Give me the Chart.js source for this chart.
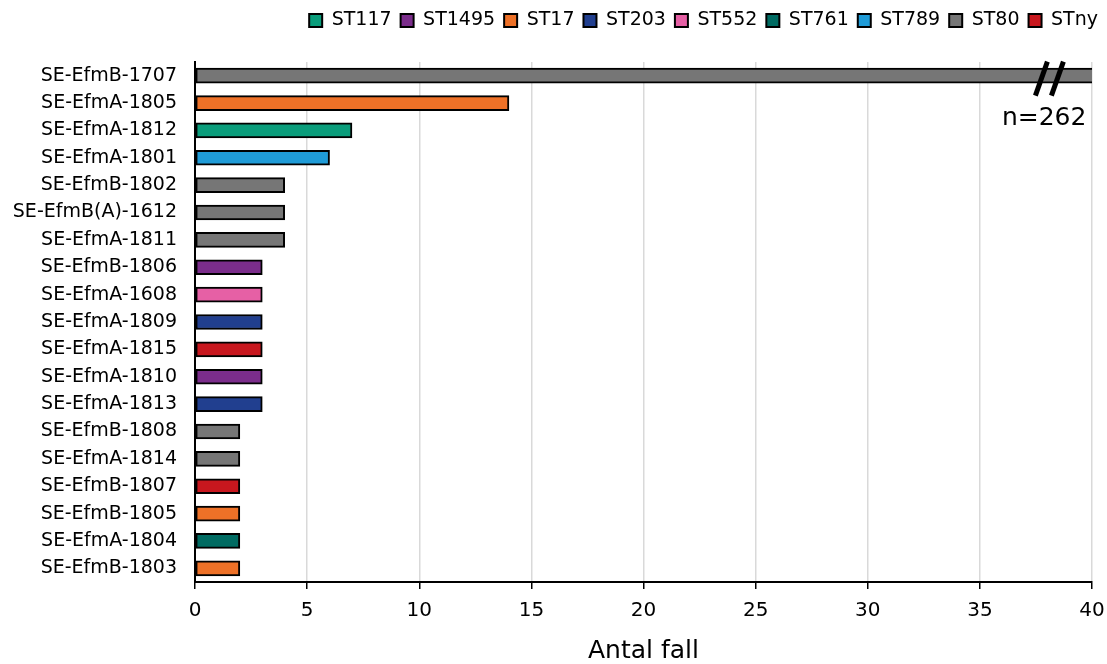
<!DOCTYPE html>
<html>
<head>
<meta charset="utf-8">
<script src="https://cdn.jsdelivr.net/npm/chart.js@4/dist/chart.umd.min.js"></script>
<style>
  html, body { margin: 0; padding: 0; background: #fff; }
  #wrap { width: 1107px; height: 664px; }
</style>
</head>
<body>
<div id="wrap"><canvas id="stChart" width="1107" height="664"></canvas></div>
<script>
// Data
const categories = ['SE-EfmB-1707', 'SE-EfmA-1805', 'SE-EfmA-1812', 'SE-EfmA-1801', 'SE-EfmB-1802',
    'SE-EfmB(A)-1612', 'SE-EfmA-1811', 'SE-EfmB-1806', 'SE-EfmA-1608', 'SE-EfmA-1809',
    'SE-EfmA-1815', 'SE-EfmA-1810', 'SE-EfmA-1813', 'SE-EfmB-1808', 'SE-EfmA-1814',
    'SE-EfmB-1807', 'SE-EfmB-1805', 'SE-EfmA-1804', 'SE-EfmB-1803'];
const counts = [262, 14, 7, 6, 4, 4, 4, 3, 3, 3, 3, 3, 3, 2, 2, 2, 2, 2, 2];
const stTypes = ['ST80', 'ST17', 'ST117', 'ST789', 'ST80', 'ST80', 'ST80', 'ST1495', 'ST552', 'ST203',
    'STny', 'ST1495', 'ST203', 'ST80', 'ST80', 'STny', 'ST17', 'ST761', 'ST17'];
const legendTypes = ['ST117', 'ST1495', 'ST17', 'ST203', 'ST552', 'ST761', 'ST789', 'ST80', 'STny'];
const typeColors = ['#0a9d7b', '#7b2d8b', '#ee7127', '#213f8f', '#e660a5', '#006b62', '#1f9bd7', '#767676', '#c8171e'];
const xTicks = [0, 5, 10, 15, 20, 25, 30, 35, 40];

const FONT = "'DejaVu Sans', Verdana, sans-serif";

// one dataset per ST type, stacked so every bar fills its own row
const datasets = legendTypes.map((t, i) => ({
    label: t,
    data: counts.map((v, j) => stTypes[j] === t ? v : null),
    backgroundColor: typeColors[i],
    borderColor: '#000',
    borderWidth: 2,
    borderSkipped: false,
    barThickness: 15
}));

// extra gap under the legend
const legendGap = {
    id: 'legendGap',
    beforeInit(chart) {
        const fit = chart.legend.fit;
        chart.legend.fit = function () {
            fit.bind(chart.legend)();
            this.height += 22;
        };
    }
};

// break mark + total on the clipped first bar
const breakPlugin = {
    id: 'breakMark',
    afterDatasetsDraw(chart) {
        const ctx = chart.ctx;
        const x = chart.scales.x;
        const y = chart.scales.y;
        const yc = y.getPixelForValue(0) + 3;
        const bx = x.getPixelForValue(38.1);
        ctx.save();
        ctx.strokeStyle = '#000';
        ctx.lineWidth = 5;
        [-8, 8].forEach(off => {
            ctx.beginPath();
            ctx.moveTo(bx + off - 6, yc + 17);
            ctx.lineTo(bx + off + 6, yc - 17);
            ctx.stroke();
        });
        ctx.fillStyle = '#000';
        ctx.font = '25px ' + FONT;
        ctx.textAlign = 'right';
        ctx.textBaseline = 'middle';
        ctx.fillText('n=' + counts[0], x.getPixelForValue(39.75), y.getPixelForValue(1.55));
        ctx.restore();
    }
};

new Chart(document.getElementById('stChart'), {
    type: 'bar',
    data: { labels: categories, datasets: datasets },
    plugins: [legendGap, breakPlugin],
    options: {
        indexAxis: 'y',
        responsive: false,
        animation: false,
        layout: { padding: { left: 0, right: 0, top: 2, bottom: 0 } },
        plugins: {
            legend: {
                position: 'top',
                align: 'end',
                labels: {
                    color: '#000',
                    font: { family: FONT, size: 19 },
                    boxWidth: 13,
                    boxHeight: 13,
                    padding: 9
                }
            },
            tooltip: { enabled: false }
        },
        scales: {
            x: {
                stacked: true,
                min: 0,
                max: 40,
                afterBuildTicks(scale) { scale.ticks = xTicks.map(v => ({ value: v })); },
                afterFit(scale) { scale.paddingRight = 15; },
                ticks: { color: '#000', font: { family: FONT, size: 20 }, padding: 10 },
                grid: { color: '#d9d9d9', lineWidth: 1.5, tickColor: '#000', tickLength: 7 },
                border: { color: '#000', width: 2 },
                title: {
                    display: true,
                    text: 'Antal fall',
                    color: '#000',
                    font: { family: FONT, size: 25, lineHeight: 1 },
                    padding: { top: 6, bottom: 0 }
                }
            },
            y: {
                stacked: true,
                afterFit(scale) { scale.width = 195; },
                ticks: { color: '#000', font: { family: FONT, size: 19 }, padding: 10, autoSkip: false },
                grid: { display: false },
                border: { color: '#000', width: 2 }
            }
        }
    }
});
</script>
</body>
</html>
